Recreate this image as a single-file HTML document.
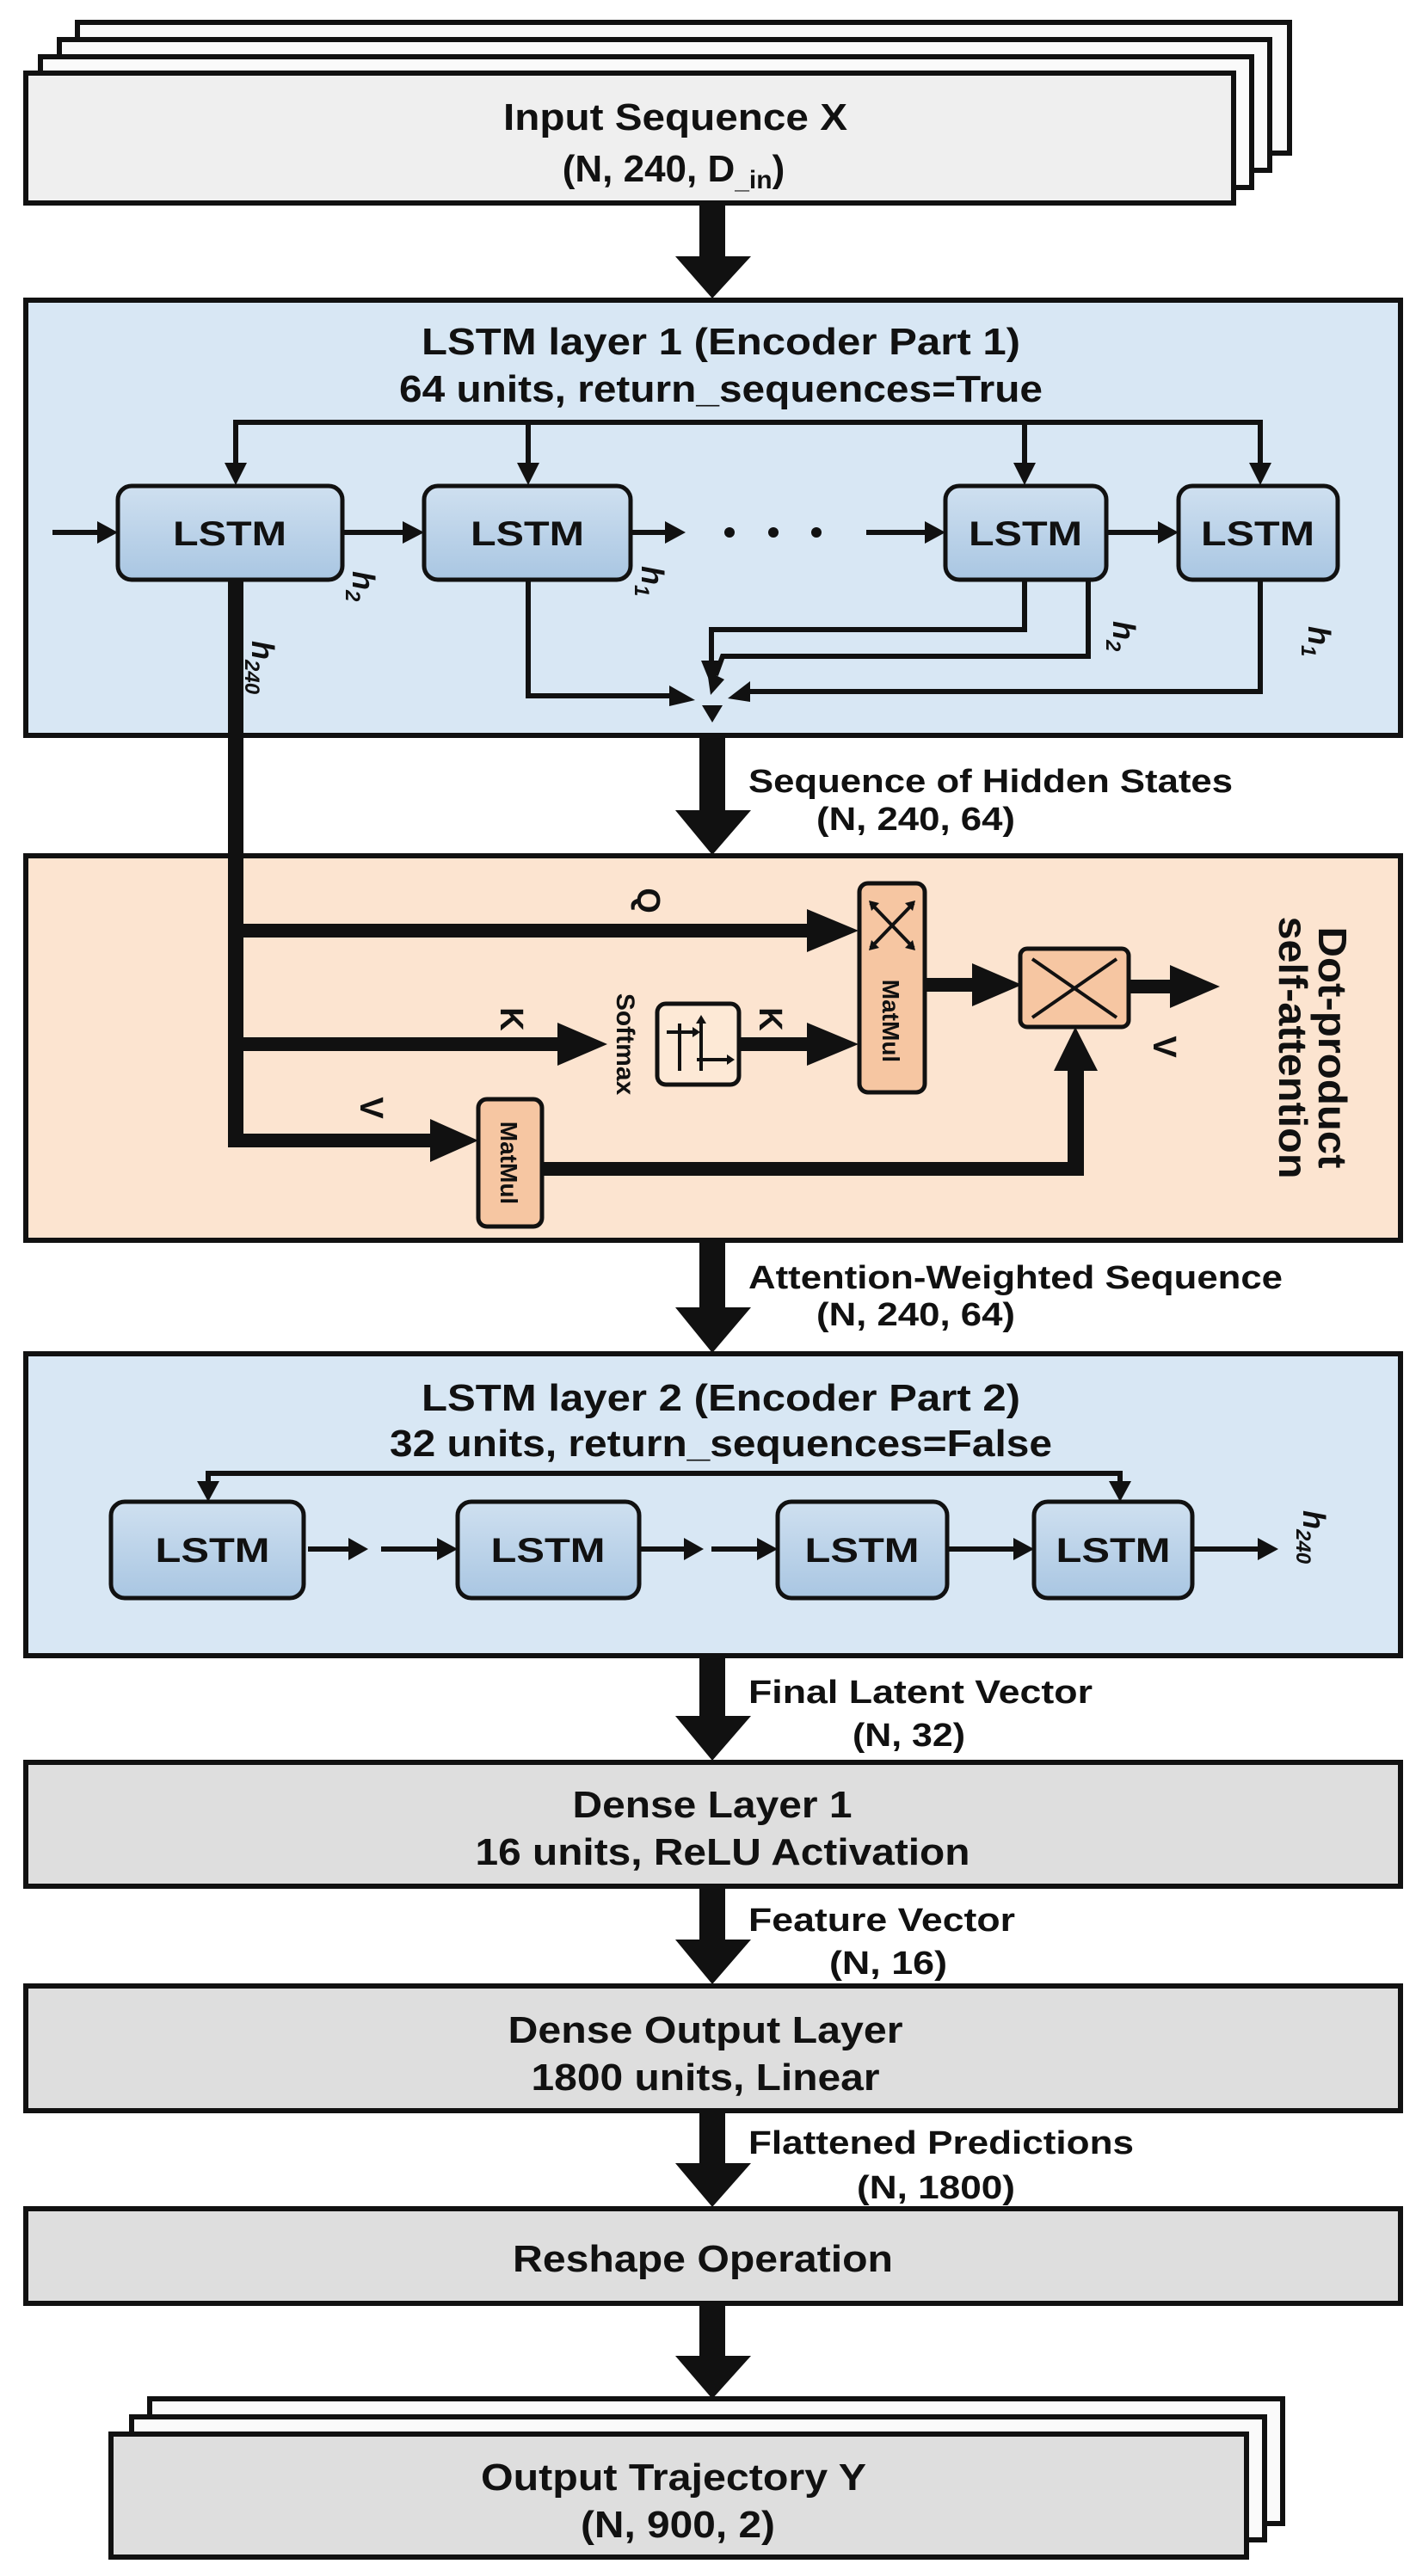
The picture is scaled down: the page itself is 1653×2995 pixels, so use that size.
<!DOCTYPE html>
<html><head><meta charset="utf-8"><style>
html,body{margin:0;padding:0;background:#fff;}
svg{display:block;}
text{font-family:"Liberation Sans Narrow","Liberation Sans",sans-serif;font-weight:bold;fill:#111;}
.w{font-family:"Liberation Sans",sans-serif;}
</style></head><body>
<svg width="1653" height="2995" viewBox="0 0 1653 2995" xmlns="http://www.w3.org/2000/svg">
<defs>
<linearGradient id="cg" x1="0" y1="0" x2="0" y2="1"><stop offset="0" stop-color="#cfe0f0"/><stop offset="1" stop-color="#a9c6e2"/></linearGradient>
</defs>
<rect width="1653" height="2995" fill="#fff"/>

<!-- Input stack -->
<g stroke="#111" stroke-width="6">
<rect x="90" y="26" width="1409" height="152" fill="#fafafa"/>
<rect x="69" y="46" width="1407" height="152" fill="#fafafa"/>
<rect x="47" y="66" width="1408" height="152" fill="#fafafa"/>
<rect x="30" y="85" width="1404" height="151" fill="#efefef"/>
</g>
<text x="785" y="151" font-size="44" text-anchor="middle" textLength="400" lengthAdjust="spacingAndGlyphs">Input Sequence X</text>
<text x="783" y="211" font-size="44" text-anchor="middle">(N, 240, D<tspan font-size="30" dy="8">_in</tspan><tspan dy="-8">)</tspan></text>

<!-- big arrows -->
<g fill="#111">
<rect x="813" y="236" width="30" height="64"/><polygon points="785,298 873,298 828,347"/>
<rect x="813" y="855" width="30" height="89"/><polygon points="785,942 873,942 828,994"/>
<rect x="813" y="1442" width="30" height="80"/><polygon points="785,1520 873,1520 828,1573"/>
<rect x="813" y="1925" width="30" height="72"/><polygon points="785,1995 873,1995 828,2047"/>
<rect x="813" y="2193" width="30" height="64"/><polygon points="785,2255 873,2255 828,2307"/>
<rect x="813" y="2454" width="30" height="63"/><polygon points="785,2515 873,2515 828,2566"/>
<rect x="813" y="2678" width="30" height="63"/><polygon points="785,2739 873,2739 828,2789"/>
</g>

<!-- LSTM layer 1 -->
<rect x="30" y="349" width="1598" height="506" fill="#d8e7f4" stroke="#111" stroke-width="6"/>
<text x="838" y="412" font-size="44" text-anchor="middle" textLength="696" lengthAdjust="spacingAndGlyphs">LSTM layer 1 (Encoder Part 1)</text>
<text x="838" y="467" font-size="44" text-anchor="middle" textLength="748" lengthAdjust="spacingAndGlyphs">64 units, return_sequences=True</text>
<g stroke="#111" stroke-width="6" fill="none">
<polyline points="274,540 274,491 1465,491 1465,540"/>
<line x1="614" y1="491" x2="614" y2="540"/>
<line x1="1191" y1="491" x2="1191" y2="540"/>
<line x1="61" y1="619" x2="115" y2="619"/>
<line x1="398" y1="619" x2="470" y2="619"/>
<line x1="733" y1="619" x2="775" y2="619"/>
<line x1="1007" y1="619" x2="1077" y2="619"/>
<line x1="1286" y1="619" x2="1348" y2="619"/>
<polyline points="614,674 614,809 780,809"/>
<polyline points="1191,674 1191,732 827,732 827,770"/>
<polyline points="1265,674 1265,763 840,763 832,785"/>
<polyline points="1465,674 1465,804 870,804"/>
</g>
<g fill="#111">
<polygon points="261,538 287,538 274,564"/><polygon points="601,538 627,538 614,564"/>
<polygon points="1178,538 1204,538 1191,564"/><polygon points="1452,538 1478,538 1465,564"/>
<polygon points="113,606 113,632 137,619"/><polygon points="468,606 468,632 493,619"/>
<polygon points="773,606 773,632 797,619"/><polygon points="1075,606 1075,632 1099,619"/>
<polygon points="1346,606 1346,632 1370,619"/>
<circle cx="848" cy="619" r="6"/><circle cx="899" cy="619" r="6"/><circle cx="949" cy="619" r="6"/>
<polygon points="778,797 778,821 808,814"/>
<polygon points="815,768 839,768 828,800"/>
<polygon points="822,780 842,790 826,808"/>
<polygon points="872,792 872,816 846,812"/>
<polygon points="816,820 840,820 828,840"/>
</g>
<g stroke="#111" stroke-width="5" fill="url(#cg)">
<rect x="137" y="565" width="261" height="109" rx="16"/>
<rect x="493" y="565" width="240" height="109" rx="16"/>
<rect x="1099" y="565" width="187" height="109" rx="16"/>
<rect x="1370" y="565" width="185" height="109" rx="16"/>
</g>
<g font-size="40" text-anchor="middle">
<text x="267" y="634" textLength="132" lengthAdjust="spacingAndGlyphs">LSTM</text>
<text x="613" y="634" textLength="132" lengthAdjust="spacingAndGlyphs">LSTM</text>
<text x="1192" y="634" textLength="132" lengthAdjust="spacingAndGlyphs">LSTM</text>
<text x="1462" y="634" textLength="132" lengthAdjust="spacingAndGlyphs">LSTM</text>
</g>
<g font-size="36" font-style="italic" class="w">
<text class="w" transform="translate(410,664) rotate(90)">h<tspan font-size="24" dy="8">2</tspan></text>
<text class="w" transform="translate(746,658) rotate(90)">h<tspan font-size="24" dy="8">1</tspan></text>
<text class="w" transform="translate(1294,722) rotate(90)">h<tspan font-size="24" dy="8">2</tspan></text>
<text class="w" transform="translate(1521,728) rotate(90)">h<tspan font-size="24" dy="8">1</tspan></text>
<text class="w" transform="translate(293,745) rotate(90)">h<tspan font-size="24" dy="8">240</tspan></text>
</g>

<text x="870" y="921" font-size="38" textLength="563" lengthAdjust="spacingAndGlyphs">Sequence of Hidden States</text>
<text x="949" y="965" font-size="38" textLength="231" lengthAdjust="spacingAndGlyphs">(N, 240, 64)</text>

<!-- Attention -->
<rect x="30" y="995" width="1598" height="447" fill="#fce4d0" stroke="#111" stroke-width="6"/>
<rect x="265" y="674" width="18" height="660" fill="#111"/>
<g fill="#111">
<rect x="265" y="1074" width="680" height="16"/><polygon points="938,1057 938,1107 998,1082"/>
<rect x="265" y="1206" width="388" height="16"/><polygon points="648,1189 648,1239 706,1214"/>
<rect x="265" y="1318" width="240" height="16"/><polygon points="500,1301 500,1351 556,1326"/>
<rect x="859" y="1206" width="84" height="16"/><polygon points="938,1189 938,1239 998,1214"/>
<rect x="1075" y="1137" width="60" height="16"/><polygon points="1130,1120 1130,1170 1188,1145"/>
<rect x="1312" y="1139" width="52" height="16"/><polygon points="1360,1122 1360,1172 1418,1147"/>
<rect x="630" y="1351" width="630" height="16"/><rect x="1241" y="1240" width="19" height="127"/>
<polygon points="1225,1245 1276,1245 1250,1194"/>
</g>
<g stroke="#111" stroke-width="5">
<rect x="999" y="1027" width="76" height="243" rx="10" fill="#f6c6a2"/>
<rect x="764" y="1167" width="95" height="94" rx="10" fill="#fde9d6"/>
<rect x="556" y="1278" width="74" height="148" rx="10" fill="#f6c6a2"/>
<rect x="1186" y="1103" width="126" height="91" rx="8" fill="#f6c6a2"/>
</g>
<g stroke="#111" stroke-width="4" fill="none">
<line x1="1012" y1="1050" x2="1062" y2="1102"/><line x1="1062" y1="1050" x2="1012" y2="1102"/>
<line x1="1200" y1="1115" x2="1298" y2="1183"/><line x1="1298" y1="1115" x2="1200" y2="1183"/>
<line x1="775" y1="1200" x2="805" y2="1200"/><line x1="790" y1="1190" x2="790" y2="1245"/>
<line x1="810" y1="1232" x2="845" y2="1232"/><line x1="815" y1="1185" x2="815" y2="1245"/>
</g>
<g fill="#111">
<polygon points="1010,1047 1022,1050 1013,1059"/><polygon points="1064,1047 1052,1050 1061,1059"/>
<polygon points="1010,1105 1022,1102 1013,1093"/><polygon points="1064,1105 1052,1102 1061,1093"/>
<polygon points="805,1194 805,1206 814,1200"/><polygon points="845,1226 845,1238 854,1232"/>
<polygon points="809,1190 821,1190 815,1180"/>
</g>
<g font-size="30" class="w">
<text class="w" transform="translate(1026,1187) rotate(90)" text-anchor="middle" font-size="28">MatMul</text>
<text class="w" transform="translate(582,1352) rotate(90)" text-anchor="middle" font-size="28">MatMul</text>
<text class="w" transform="translate(717,1214) rotate(90)" text-anchor="middle" font-size="30">Softmax</text>
</g>
<g font-size="38" class="w">
<text class="w" transform="translate(741,1047) rotate(90)" text-anchor="middle">Q</text>
<text class="w" transform="translate(582,1185) rotate(90)" text-anchor="middle">K</text>
<text class="w" transform="translate(883,1185) rotate(90)" text-anchor="middle">K</text>
<text class="w" transform="translate(419,1288) rotate(90)" text-anchor="middle">V</text>
<text class="w" transform="translate(1341,1217) rotate(90)" text-anchor="middle">V</text>
</g>
<text class="w" transform="translate(1533,1218) rotate(90)" text-anchor="middle" font-size="46" textLength="281" lengthAdjust="spacingAndGlyphs">Dot-product</text>
<text class="w" transform="translate(1487,1218) rotate(90)" text-anchor="middle" font-size="46" textLength="305" lengthAdjust="spacingAndGlyphs">self-attention</text>

<text x="870" y="1498" font-size="38" textLength="621" lengthAdjust="spacingAndGlyphs">Attention-Weighted Sequence</text>
<text x="949" y="1541" font-size="38" textLength="231" lengthAdjust="spacingAndGlyphs">(N, 240, 64)</text>

<!-- LSTM layer 2 -->
<rect x="30" y="1574" width="1598" height="351" fill="#d8e7f4" stroke="#111" stroke-width="6"/>
<text x="838" y="1640" font-size="44" text-anchor="middle" textLength="696" lengthAdjust="spacingAndGlyphs">LSTM layer 2 (Encoder Part 2)</text>
<text x="838" y="1693" font-size="44" text-anchor="middle" textLength="770" lengthAdjust="spacingAndGlyphs">32 units, return_sequences=False</text>
<g stroke="#111" stroke-width="6" fill="none">
<polyline points="242,1725 242,1713 1302,1713 1302,1725"/>
<line x1="358" y1="1801" x2="410" y2="1801"/>
<line x1="443" y1="1801" x2="512" y2="1801"/>
<line x1="743" y1="1801" x2="800" y2="1801"/>
<line x1="827" y1="1801" x2="884" y2="1801"/>
<line x1="1101" y1="1801" x2="1182" y2="1801"/>
<line x1="1386" y1="1801" x2="1466" y2="1801"/>
</g>
<g fill="#111">
<polygon points="229,1722 255,1722 242,1746"/><polygon points="1289,1722 1315,1722 1302,1746"/>
<polygon points="405,1788 405,1814 428,1801"/><polygon points="508,1788 508,1814 532,1801"/>
<polygon points="795,1788 795,1814 818,1801"/><polygon points="880,1788 880,1814 904,1801"/>
<polygon points="1178,1788 1178,1814 1202,1801"/><polygon points="1462,1788 1462,1814 1486,1801"/>
</g>
<g stroke="#111" stroke-width="5" fill="url(#cg)">
<rect x="129" y="1746" width="224" height="112" rx="16"/>
<rect x="532" y="1746" width="211" height="112" rx="16"/>
<rect x="904" y="1746" width="197" height="112" rx="16"/>
<rect x="1202" y="1746" width="184" height="112" rx="16"/>
</g>
<g font-size="40" text-anchor="middle">
<text x="247" y="1816" textLength="133" lengthAdjust="spacingAndGlyphs">LSTM</text>
<text x="637" y="1816" textLength="133" lengthAdjust="spacingAndGlyphs">LSTM</text>
<text x="1002" y="1816" textLength="133" lengthAdjust="spacingAndGlyphs">LSTM</text>
<text x="1294" y="1816" textLength="133" lengthAdjust="spacingAndGlyphs">LSTM</text>
</g>
<text class="w" font-style="italic" font-size="36" transform="translate(1515,1756) rotate(90)">h<tspan font-size="24" dy="8">240</tspan></text>

<text x="870" y="1980" font-size="38" textLength="400" lengthAdjust="spacingAndGlyphs">Final Latent Vector</text>
<text x="991" y="2030" font-size="38" textLength="131" lengthAdjust="spacingAndGlyphs">(N, 32)</text>

<!-- Dense layers -->
<g stroke="#111" stroke-width="6" fill="#dedede">
<rect x="30" y="2049" width="1598" height="144"/>
<rect x="30" y="2309" width="1598" height="145"/>
<rect x="30" y="2568" width="1598" height="110"/>
</g>
<text x="828" y="2113" font-size="44" text-anchor="middle" textLength="325" lengthAdjust="spacingAndGlyphs">Dense Layer 1</text>
<text x="840" y="2168" font-size="44" text-anchor="middle" textLength="575" lengthAdjust="spacingAndGlyphs">16 units, ReLU Activation</text>
<text x="870" y="2245" font-size="38" textLength="310" lengthAdjust="spacingAndGlyphs">Feature Vector</text>
<text x="964" y="2295" font-size="38" textLength="137" lengthAdjust="spacingAndGlyphs">(N, 16)</text>
<text x="820" y="2375" font-size="44" text-anchor="middle" textLength="459" lengthAdjust="spacingAndGlyphs">Dense Output Layer</text>
<text x="820" y="2430" font-size="44" text-anchor="middle" textLength="405" lengthAdjust="spacingAndGlyphs">1800 units, Linear</text>
<text x="870" y="2504" font-size="38" textLength="448" lengthAdjust="spacingAndGlyphs">Flattened Predictions</text>
<text x="996" y="2556" font-size="38" textLength="184" lengthAdjust="spacingAndGlyphs">(N, 1800)</text>
<text x="817" y="2641" font-size="44" text-anchor="middle" textLength="442" lengthAdjust="spacingAndGlyphs">Reshape Operation</text>

<!-- Output stack -->
<g stroke="#111" stroke-width="6">
<rect x="174" y="2789" width="1317" height="145" fill="#fafafa"/>
<rect x="153" y="2810" width="1317" height="143" fill="#fafafa"/>
<rect x="129" y="2830" width="1320" height="143" fill="#dedede"/>
</g>
<text x="783" y="2895" font-size="44" text-anchor="middle" textLength="448" lengthAdjust="spacingAndGlyphs">Output Trajectory Y</text>
<text x="788" y="2950" font-size="44" text-anchor="middle" textLength="226" lengthAdjust="spacingAndGlyphs">(N, 900, 2)</text>
</svg>
</body></html>
